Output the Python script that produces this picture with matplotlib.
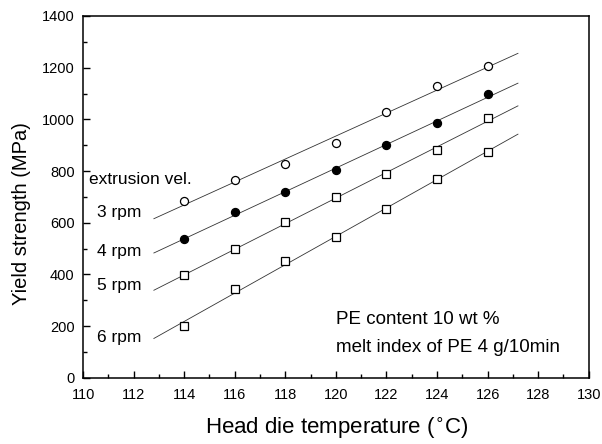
import numpy as np
import matplotlib
matplotlib.use("Agg")
import matplotlib.pyplot as plt
from matplotlib.ticker import MultipleLocator

plt.rcParams['font.family'] = ['Liberation Sans', 'DejaVu Sans']

temps = [114, 116, 118, 120, 122, 124, 126]
rpm3 = [685, 765, 828, 908, 1030, 1128, 1205]
rpm4 = [537, 640, 718, 803, 900, 985, 1098]
rpm5 = [397, 497, 603, 700, 787, 880, 1005]
rpm6 = [200, 342, 453, 543, 652, 770, 873]
fit_range = [112.8, 127.2]
labels = ["3 rpm", "4 rpm", "5 rpm", "6 rpm"]
label_y = [640, 487, 356, 155]

fig = plt.figure(figsize=(6.02, 4.44), dpi=100)
ax = fig.add_axes([0.138, 0.149, 0.840, 0.815])

series = [rpm3, rpm4, rpm5, rpm6]
styles = [dict(marker='o', mfc='white', mec='black'),
          dict(marker='o', mfc='black', mec='black'),
          dict(marker='s', mfc='white', mec='black'),
          dict(marker='s', mfc='white', mec='black')]
xf = np.array(fit_range)
for ys, st in zip(series, styles):
    p = np.polyfit(temps, ys, 1)
    ax.plot(xf, np.polyval(p, xf), color='#333333', lw=0.6, zorder=1)
    ax.plot(temps, ys, linestyle='none', ms=5.8, mew=0.9, zorder=2, **st)

for lab, yy in zip(labels, label_y):
    ax.text(110.55, yy, lab, fontsize=12.5, va='center', ha='left')
ax.text(110.25, 766, "extrusion vel.", fontsize=12.5, va='center', ha='left')
ax.text(120.0, 224, "PE content 10 wt %", fontsize=13.5, va='center', ha='left')
ax.text(120.0, 116, "melt index of PE 4 g/10min", fontsize=13.5, va='center', ha='left')

ax.set_xlim(110, 130)
ax.set_ylim(0, 1400)
ax.xaxis.set_major_locator(MultipleLocator(2))
ax.xaxis.set_minor_locator(MultipleLocator(1))
ax.yaxis.set_major_locator(MultipleLocator(200))
ax.yaxis.set_minor_locator(MultipleLocator(100))
ax.tick_params(which='both', direction='in', labelsize=10.5, width=1)
ax.tick_params(which='major', length=5)
ax.tick_params(which='minor', length=3)
ax.tick_params(axis='x', pad=7)
ax.tick_params(axis='y', pad=6)
for s in ax.spines.values():
    s.set_linewidth(1.1)

fig.text(0.56, 0.036, "Head die temperature ($^{\\circ}$C)", fontsize=16,
         ha='center', va='center')
fig.text(0.035, 0.519, "Yield strength (MPa)", fontsize=14.5,
         ha='center', va='center', rotation=90)

fig.savefig("out.png", dpi=100)
